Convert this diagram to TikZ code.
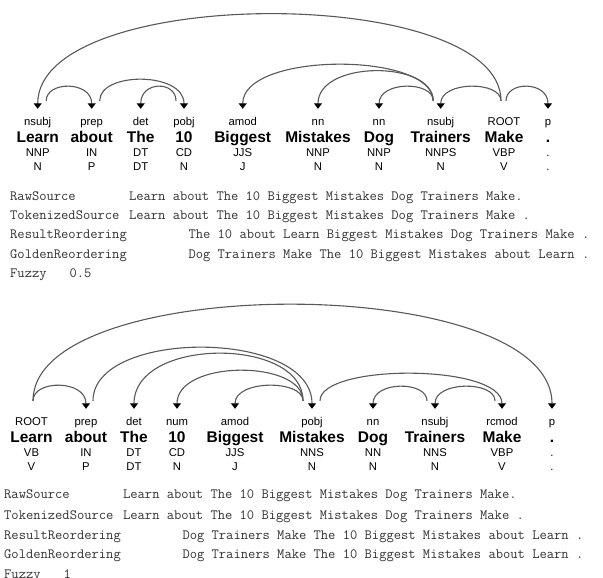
\documentclass[tikz,border=0pt]{standalone}
\usepackage{fontspec}
\setmainfont{Liberation Sans}
\usetikzlibrary{arrows.meta}
\frenchspacing
\begin{document}
\begin{tikzpicture}[x=1pt,y=-1pt,
  deplbl/.style={font=\fontsize{11.3}{13}\selectfont, anchor=base, inner sep=0pt, text height=8.5pt, text depth=2.5pt},
  wordlbl/.style={font=\fontsize{15.5}{18}\selectfont\bfseries, anchor=base, inner sep=0pt},
  taglbl/.style={font=\fontsize{11.3}{13}\selectfont, anchor=base, inner sep=0pt},
  deparc/.style={draw=black!65, line width=1.1pt, -{Triangle[width=8pt,length=5.5pt,color=black]}},
  ttline/.style={font=\ttfamily\fontsize{14.15}{16}\selectfont, anchor=base west, inner sep=0pt, text=black!80}]
\useasboundingbox (0,0) rectangle (603,578);
\fill[white] (0,0) rectangle (603,578);

% ---------- top sentence ----------
\foreach \x/\d/\w/\p/\c [count=\i] in {37.7/nsubj/Learn/NNP/N, 91.7/prep/about/IN/P, 140.7/det/The/DT/DT, 184/pobj/10/CD/N, 242.7/amod/Biggest/JJS/J, 318/nn/Mistakes/NNP/N, 379/nn/Dog/NNP/N, 440.7/nsubj/Trainers/NNPS/N, 504/ROOT/Make/VBP/V, 548/p/././.}{
  \node[deplbl] (ad\i) at (\x,125) {\d};
  \node[wordlbl] (aw\i) at (\x,142.5) {\w};
  \node[taglbl] (ap\i) at (\x,157) {\p};
  \node[taglbl] (ac\i) at (\x,170.5) {\c};
}
\draw[deparc] ([xshift=-3pt,yshift=15.5pt]ad9.north) .. controls +(0,-116.7) and +(0,-124.7) .. ([yshift=7.5pt]ad1.north);
\draw[deparc] ([xshift=8.5pt,yshift=15.5pt]ad1.north) .. controls +(0,-20) and +(0,-28) .. ([yshift=7.5pt]ad2.north);
\draw[deparc] ([xshift=8pt,yshift=15.5pt]ad2.north) .. controls +(0,-29.3) and +(0,-37.3) .. ([yshift=7.5pt]ad4.north);
\draw[deparc] ([xshift=-8pt,yshift=15.5pt]ad4.north) .. controls +(0,-20) and +(0,-28) .. ([yshift=7.5pt]ad3.north);
\draw[deparc] ([xshift=-7.5pt,yshift=15.5pt]ad8.north) .. controls +(0,-49.3) and +(0,-57.3) .. ([yshift=7.5pt]ad5.north);
\draw[deparc] ([xshift=-7.5pt,yshift=15.5pt]ad8.north) .. controls +(0,-40.7) and +(0,-48.7) .. ([yshift=7.5pt]ad6.north);
\draw[deparc] ([xshift=-7.5pt,yshift=15.5pt]ad8.north) .. controls +(0,-20) and +(0,-28) .. ([yshift=7.5pt]ad7.north);
\draw[deparc] ([xshift=-3pt,yshift=15.5pt]ad9.north) .. controls +(0,-20) and +(0,-28) .. ([yshift=7.5pt]ad8.north);
\draw[deparc] ([xshift=2pt,yshift=15.5pt]ad9.north) .. controls +(0,-20) and +(0,-28) .. ([yshift=7.5pt]ad10.north);

\node[ttline] (a1l) at (10,200) {RawSource};
\node[ttline] (a1r) at (128.9,200) {Learn about The 10 Biggest Mistakes Dog Trainers Make.};
\node[ttline] (a2l) at (10,219) {TokenizedSource};
\node[ttline] (a2r) at (128.9,219) {Learn about The 10 Biggest Mistakes Dog Trainers Make .};
\node[ttline] (a3l) at (10,238.5) {ResultReordering};
\node[ttline] (a3r) at (188.3,238.5) {The 10 about Learn Biggest Mistakes Dog Trainers Make .};
\node[ttline] (a4l) at (10,258) {GoldenReordering};
\node[ttline] (a4r) at (188.3,258) {Dog Trainers Make The 10 Biggest Mistakes about Learn .};
\node[ttline] (a5l) at (10,277) {Fuzzy};
\node[ttline] (a5r) at (69.4,277) {0.5};

% ---------- bottom sentence ----------
\foreach \x/\d/\w/\p/\c [count=\i] in {31.5/ROOT/Learn/VB/V, 86/prep/about/IN/P, 134/det/The/DT/DT, 177/num/10/CD/N, 235/amod/Biggest/JJS/J, 312/pobj/Mistakes/NNS/N, 373/nn/Dog/NN/N, 435/nsubj/Trainers/NNS/N, 502/rcmod/Make/VBP/V, 552/p/././.}{
  \node[deplbl] (bd\i) at (\x,425) {\d};
  \node[wordlbl] (bw\i) at (\x,442.7) {\w};
  \node[taglbl] (bp\i) at (\x,456.7) {\p};
  \node[taglbl] (bc\i) at (\x,470) {\c};
}
\draw[deparc] ([xshift=1.5pt,yshift=15.5pt]bd1.north) .. controls +(0,-21.3) and +(0,-29.3) .. ([yshift=7.5pt]bd2.north);
\draw[deparc] ([xshift=1.5pt,yshift=15.5pt]bd1.north) .. controls +(0,-129.3) and +(0,-137.3) .. ([yshift=7.5pt]bd10.north);
\draw[deparc] ([xshift=7pt,yshift=15.5pt]bd2.north) .. controls +(0,-72) and +(0,-80) .. ([yshift=7.5pt]bd6.north);
\draw[deparc] ([xshift=-9pt,yshift=15.5pt]bd6.north) .. controls +(0,-64) and +(0,-72) .. ([yshift=7.5pt]bd3.north);
\draw[deparc] ([xshift=-9pt,yshift=15.5pt]bd6.north) .. controls +(0,-41.3) and +(0,-49.3) .. ([yshift=7.5pt]bd4.north);
\draw[deparc] ([xshift=-9pt,yshift=15.5pt]bd6.north) .. controls +(0,-21.3) and +(0,-29.3) .. ([yshift=7.5pt]bd5.north);
\draw[deparc] ([xshift=8pt,yshift=15.5pt]bd6.north) .. controls +(0,-37.3) and +(0,-45.3) .. ([yshift=7.5pt]bd9.north);
\draw[deparc] ([xshift=-8pt,yshift=15.5pt]bd8.north) .. controls +(0,-20) and +(0,-28) .. ([yshift=7.5pt]bd7.north);
\draw[deparc] ([xshift=-7pt,yshift=15.5pt]bd9.north) .. controls +(0,-20) and +(0,-28) .. ([yshift=7.5pt]bd8.north);

\node[ttline] (b1l) at (4,498.5) {RawSource};
\node[ttline] (b1r) at (122.9,498.5) {Learn about The 10 Biggest Mistakes Dog Trainers Make.};
\node[ttline] (b2l) at (4,519) {TokenizedSource};
\node[ttline] (b2r) at (122.9,519) {Learn about The 10 Biggest Mistakes Dog Trainers Make .};
\node[ttline] (b3l) at (4,539) {ResultReordering};
\node[ttline] (b3r) at (182.3,539) {Dog Trainers Make The 10 Biggest Mistakes about Learn .};
\node[ttline] (b4l) at (4,558.5) {GoldenReordering};
\node[ttline] (b4r) at (182.3,558.5) {Dog Trainers Make The 10 Biggest Mistakes about Learn .};
\node[ttline] (b5l) at (4,578.5) {Fuzzy};
\node[ttline] (b5r) at (63.4,578.5) {1};
\end{tikzpicture}
\end{document}
